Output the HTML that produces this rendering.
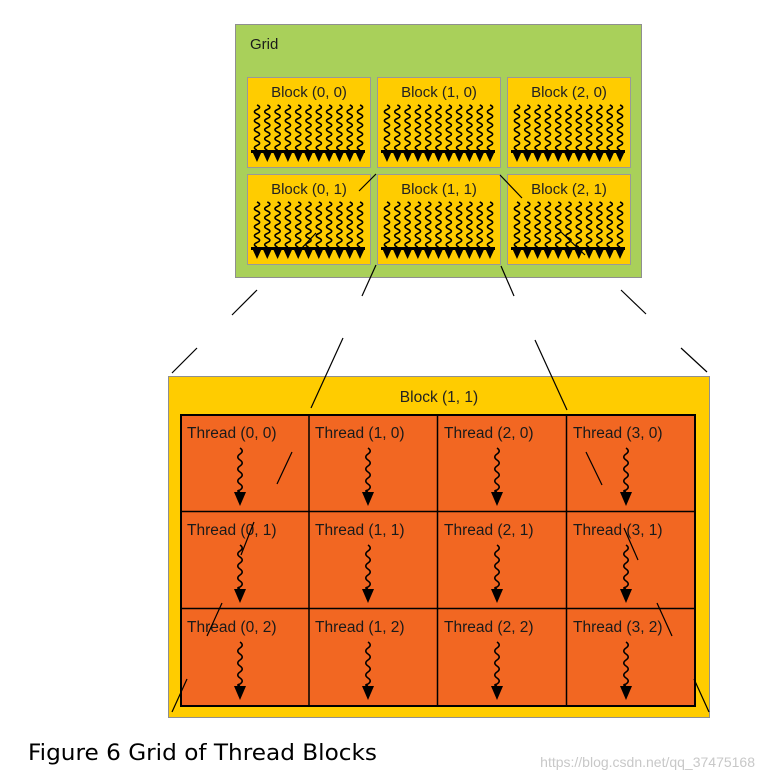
<!DOCTYPE html>
<html><head><meta charset="utf-8">
<style>
html,body{margin:0;padding:0;background:#fff;}
svg{display:block;}
text{font-family:"Liberation Sans",sans-serif;}
</style></head>
<body>
<svg id="s" width="764" height="780" viewBox="0 0 764 780" xmlns="http://www.w3.org/2000/svg">
<!-- Grid -->
<rect x="235.5" y="24.5" width="406" height="253" fill="#A9D05A" stroke="#8f8f8f" stroke-width="1"/>
<text x="250" y="49" font-size="15" fill="#1a1a1a">Grid</text>
<g id="blocks"></g>
<!-- Big block -->
<rect x="168.5" y="376.5" width="541" height="341" fill="#FFCC00" stroke="#8f8f8f" stroke-width="1"/>
<text x="439" y="402" font-size="15.5" fill="#222" text-anchor="middle">Block (1, 1)</text>
<rect x="181" y="415" width="514" height="291" fill="#F26722" stroke="#000" stroke-width="2"/>
<g stroke="#000" stroke-width="1.5">
<line x1="309" y1="415" x2="309" y2="706"/>
<line x1="437.5" y1="415" x2="437.5" y2="706"/>
<line x1="566.5" y1="415" x2="566.5" y2="706"/>
<line x1="181" y1="511.5" x2="695" y2="511.5"/>
<line x1="181" y1="608.5" x2="695" y2="608.5"/>
</g>
<g id="threads"></g>
<!-- connector segments -->
<g stroke="#000" stroke-width="1.2" fill="none">
<line x1="376" y1="174" x2="359" y2="191"/>
<line x1="316" y1="233" x2="300" y2="250"/>
<line x1="257" y1="290" x2="232" y2="315"/>
<line x1="197" y1="348" x2="172" y2="373"/>
<line x1="376" y1="265" x2="362" y2="296"/>
<line x1="343" y1="338" x2="311" y2="408"/>
<line x1="292" y1="452" x2="277" y2="484"/>
<line x1="254" y1="522" x2="241" y2="555"/>
<line x1="222" y1="603" x2="207" y2="636"/>
<line x1="187" y1="679" x2="172" y2="712"/>
<line x1="500" y1="175" x2="522" y2="198"/>
<line x1="561" y1="232" x2="585" y2="255"/>
<line x1="621" y1="290" x2="646" y2="314"/>
<line x1="681" y1="348" x2="707" y2="372"/>
<line x1="501" y1="266" x2="514" y2="296"/>
<line x1="535" y1="340" x2="567" y2="410"/>
<line x1="586" y1="452" x2="602" y2="485"/>
<line x1="624" y1="528" x2="638" y2="560"/>
<line x1="657" y1="603" x2="672" y2="636"/>
<line x1="694" y1="679" x2="709" y2="712"/>
</g>
<text x="28" y="760" font-size="22" fill="#000" textLength="349" lengthAdjust="spacingAndGlyphs" style="font-family:'DejaVu Sans','Liberation Sans',sans-serif">Figure 6   Grid of Thread Blocks</text>
<text x="755" y="767" font-size="14" fill="#c8c8c8" text-anchor="end">https://blog.csdn.net/qq_37475168</text>
</svg>
<script>
var NS="http://www.w3.org/2000/svg";
function el(p,n,a){var e=document.createElementNS(NS,n);for(var k in a)e.setAttribute(k,a[k]);p.appendChild(e);return e;}
function squig(x,y0,y1,amp,per){var d="M"+x+" "+y0;var y=y0,s=1;while(y<y1){var yn=Math.min(y+per/2,y1);d+=" Q"+(x+s*amp*2)+" "+((y+yn)/2)+" "+x+" "+yn;y=yn;s=-s;}return d;}
var B=document.getElementById("blocks");
var xs=[247,377,507],ys=[77,174];
for(var r=0;r<2;r++)for(var c=0;c<3;c++){
 var x=xs[c],y=ys[r];
 el(B,"rect",{x:x+.5,y:y+.5,width:123,height:90,fill:"#FFCC00",stroke:"#999","stroke-width":1});
 var t=el(B,"text",{x:x+62,y:y+20,"font-size":15,fill:"#222","text-anchor":"middle"});t.textContent="Block ("+c+", "+r+")";
 for(var i=0;i<11;i++){var cx=x+10+i*10.3;
  el(B,"path",{d:squig(cx,y+28,y+73,2.6,9),stroke:"#000","stroke-width":1.6,fill:"none"});
  el(B,"polygon",{points:(cx-5)+","+(y+74)+" "+(cx+5)+","+(y+74)+" "+cx+","+(y+85),fill:"#000"});}
 el(B,"rect",{x:x+4,y:y+73,width:114,height:3,fill:"#000"});
}
var T=document.getElementById("threads");
var cxs=[181,309,438,567],rys=[415,512,609];
for(var r=0;r<3;r++)for(var c=0;c<4;c++){
 var x=cxs[c],y=rys[r];
 var t=el(T,"text",{x:x+6,y:y+23,"font-size":15.5,fill:"#1a1a1a"});t.textContent="Thread ("+c+", "+r+")";
 var ax=x+59;
 el(T,"path",{d:squig(ax,y+33,y+77,2.2,12),stroke:"#000","stroke-width":1.6,fill:"none"});
 el(T,"polygon",{points:(ax-6)+","+(y+77)+" "+(ax+6)+","+(y+77)+" "+ax+","+(y+91),fill:"#000"});
}
</script>
</body></html>
